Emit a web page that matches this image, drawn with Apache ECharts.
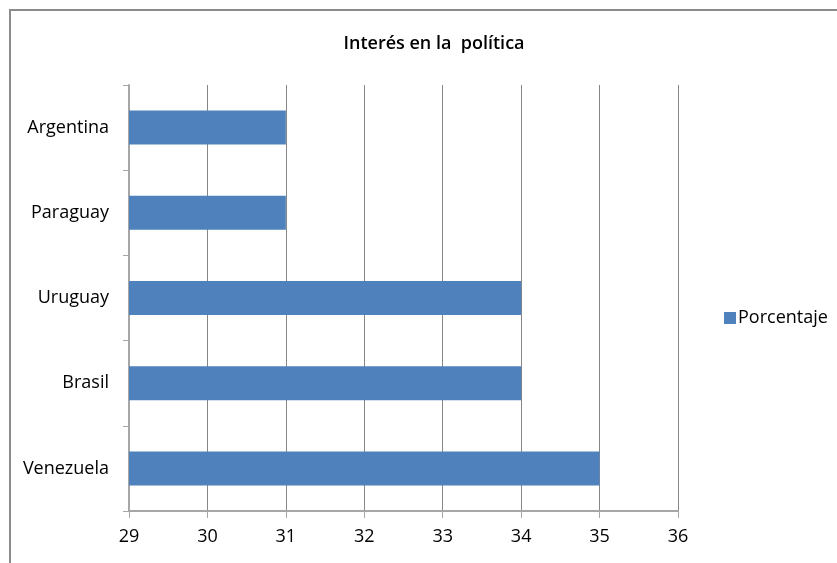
<!DOCTYPE html>
<html>
<head>
<meta charset="utf-8">
<script src="https://cdn.jsdelivr.net/npm/echarts@6/dist/echarts.min.js"></script>
<style>
html,body{margin:0;padding:0;background:#fff;}
#c{width:837px;height:563px;}
</style>
</head>
<body>
<div id="c"></div>
<script>
var categories = ['Argentina', 'Paraguay', 'Uruguay', 'Brasil', 'Venezuela'];
var porcentaje = [31, 31, 34, 34, 35];
var seriesName = 'Porcentaje';
var titleText = 'Interés en la  política';

var chart = echarts.init(document.getElementById('c'));
var font = '"Open Sans", sans-serif';
chart.setOption({
  animation: false,
  backgroundColor: '#fff',
  title: {
    text: titleText,
    left: 429,
    top: 30,
    textAlign: 'center',
    textStyle: { fontFamily: font, fontSize: 18, fontWeight: 600, color: '#000' }
  },
  legend: {
    data: [seriesName],
    left: 719,
    top: 304,
    orient: 'vertical',
    icon: 'rect',
    itemWidth: 12,
    itemHeight: 12,
    itemGap: 4,
    textStyle: { fontFamily: font, fontSize: 18, color: '#000', padding: [0, 0, 0, -3] }
  },
  grid: { left: 129, right: 159, top: 85, bottom: 52 },
  xAxis: {
    type: 'value',
    min: 29, max: 36, interval: 1,
    axisLine: { show: true, lineStyle: { color: '#a6a6a6', width: 2 } },
    axisTick: { show: true, length: 7, lineStyle: { color: '#a6a6a6' } },
    splitLine: { show: true, lineStyle: { color: '#868686', width: 1 } },
    axisLabel: { fontFamily: font, fontSize: 18, color: '#000', margin: 17 }
  },
  yAxis: {
    type: 'category',
    data: categories,
    inverse: true,
    axisLine: { show: true, lineStyle: { color: '#a6a6a6', width: 2 } },
    axisTick: { show: true, length: 6, alignWithLabel: false, lineStyle: { color: '#a6a6a6' } },
    axisLabel: { fontFamily: font, fontSize: 18, color: '#000', margin: 20 }
  },
  series: [{
    name: seriesName,
    type: 'bar',
    data: porcentaje,
    barWidth: 34,
    itemStyle: { color: '#4f81bd' }
  }],
  graphic: [{
    type: 'rect',
    shape: { x: 10, y: 10, width: 900, height: 700 },
    style: { fill: null, stroke: '#8c8c8c', lineWidth: 2 },
    silent: true
  }]
});
</script>
</body>
</html>
